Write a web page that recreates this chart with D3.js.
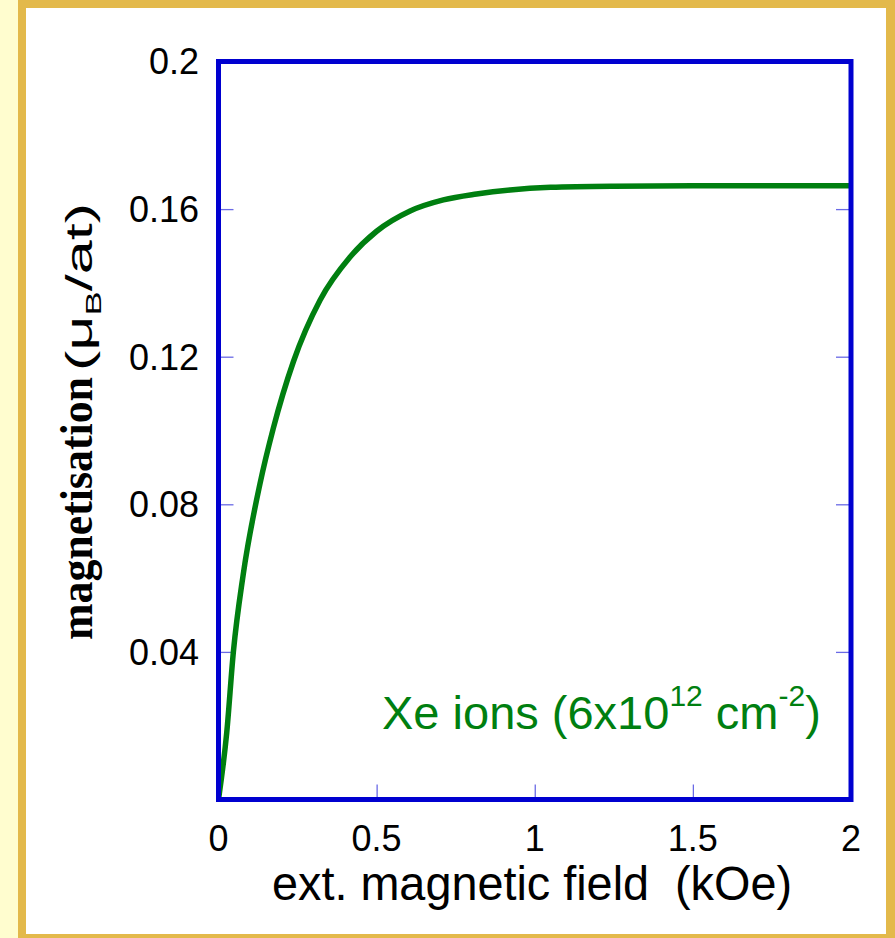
<!DOCTYPE html>
<html><head><meta charset="utf-8">
<script src="https://cdn.jsdelivr.net/npm/d3@7"></script>
<style>body{margin:0;background:#fff}</style>
</head><body>
<svg id="c" width="895" height="938"></svg>
<script>
// data
const field = [0, 0.026, 0.047, 0.078, 0.131, 0.173, 0.237, 0.321, 0.416, 0.5, 0.606, 0.711, 0.816, 0.922, 1.05, 1.25, 1.5, 1.75, 2.0];
const magnetisation = [0, 0.0181, 0.040, 0.0609, 0.0855, 0.1005, 0.1187, 0.1353, 0.147, 0.154, 0.1595, 0.1625, 0.1641, 0.1652, 0.1659, 0.1662, 0.1663, 0.1663, 0.1663];
const xTickValues = [0, 0.5, 1, 1.5, 2];
const xTickLabels = ["0", "0.5", "1", "1.5", "2"];
const yTickValues = [0.04, 0.08, 0.12, 0.16, 0.2];
const yTickLabels = ["0.04", "0.08", "0.12", "0.16", "0.2"];
const xTitle = "ext. magnetic field  (kOe)";
const yTitleMain = "magnetisation";
const legendText = ["Xe ions (6x10", "12", " cm", "-2", ")"];

const svg = d3.select("#c");
const W = 895, H = 938;
const L = 218.5, R = 851, T = 61.5, B = 799.5;
const frameColor = "#0000d0", tickColor = "#6a6ae6", green = "#007f10";

// background & border
svg.append("rect").attr("x",0).attr("y",0).attr("width",W).attr("height",H).attr("fill","#fffdcf");
svg.append("rect").attr("x",18).attr("y",0).attr("width",W-18).attr("height",H).attr("fill","#e3b94b");
svg.append("rect").attr("x",26).attr("y",8).attr("width",860).attr("height",926).attr("fill","#ffffff");

const x = d3.scaleLinear().domain([0,2]).range([L,R]);
const y = d3.scaleLinear().domain([0,0.2]).range([B,T]);

const tickLen = 15;
function styleAxis(g){
  g.select(".domain").remove();
  g.selectAll(".tick line").attr("stroke",tickColor).attr("stroke-width",1.3);
  g.selectAll(".tick text").remove();
}
svg.append("g").attr("transform",`translate(0,${B})`)
  .call(d3.axisBottom(x).tickValues(xTickValues).tickSize(-tickLen)).call(styleAxis);
svg.append("g").attr("transform",`translate(${L},0)`)
  .call(d3.axisLeft(y).tickValues(yTickValues).tickSize(-tickLen)).call(styleAxis);
svg.append("g").attr("transform",`translate(${R},0)`)
  .call(d3.axisRight(y).tickValues(yTickValues).tickSize(-tickLen)).call(styleAxis);

// curve
svg.append("clipPath").attr("id","clip").append("rect")
  .attr("x",L).attr("y",T).attr("width",R-L).attr("height",B-T);
const pts = field.map((f,i)=>[f, magnetisation[i]]);
svg.append("path").datum(pts)
  .attr("clip-path","url(#clip)")
  .attr("d", d3.line().x(d=>x(d[0])).y(d=>y(d[1])).curve(d3.curveMonotoneX))
  .attr("fill","none").attr("stroke",green).attr("stroke-width",5.5).attr("stroke-linejoin","round");

// frame
svg.append("rect").attr("x",L).attr("y",T).attr("width",R-L).attr("height",B-T)
  .attr("fill","none").attr("stroke",frameColor).attr("stroke-width",5);

// tick labels
const font = "Liberation Sans, Arial, Helvetica, sans-serif";
svg.append("g").selectAll("text").data(xTickValues).join("text")
  .attr("x",d=>x(d)).attr("y",851).attr("text-anchor","middle")
  .attr("font-family",font).attr("font-size",36).attr("fill","#000")
  .text((d,i)=>xTickLabels[i]);
svg.append("g").selectAll("text").data(yTickValues).join("text")
  .attr("x",199).attr("y",d=>y(d)).attr("dy","0.36em").attr("text-anchor","end")
  .attr("font-family",font).attr("font-size",36).attr("fill","#000")
  .text((d,i)=>yTickLabels[i]);

// x title
svg.append("text").attr("x",272).attr("y",900)
  .attr("font-family",font).attr("font-size",49).attr("fill","#000")
  .style("white-space","pre")
  .attr("textLength",520).attr("lengthAdjust","spacingAndGlyphs")
  .text(xTitle);

// y title (rotated)
const yt = svg.append("g").attr("transform","rotate(-90)");
yt.append("text").attr("x",-640).attr("y",92)
  .attr("font-family","Liberation Serif, 'Times New Roman', serif").attr("font-weight","bold")
  .attr("font-size",47).attr("fill","#000")
  .attr("textLength",263).attr("lengthAdjust","spacingAndGlyphs")
  .text(yTitleMain);
const yt2 = yt.append("text").attr("x",-371).attr("y",92)
  .attr("font-family",font).attr("font-size",37).attr("fill","#000")
  .attr("textLength",168).attr("lengthAdjust","spacingAndGlyphs");
yt2.append("tspan").text("(\u03bc");
yt2.append("tspan").attr("font-size",22).attr("dy",9).text("B");
yt2.append("tspan").attr("dy",-9).text("/at)");

// legend
const lg = svg.append("text").attr("x",382).attr("y",729)
  .attr("font-family",font).attr("font-size",47).attr("fill",green)
  .style("white-space","pre");
lg.append("tspan").text(legendText[0]);
lg.append("tspan").attr("font-size",30).attr("dy",-23).text(legendText[1]);
lg.append("tspan").attr("dy",23).text(legendText[2]);
lg.append("tspan").attr("font-size",30).attr("dy",-23).text(legendText[3]);
lg.append("tspan").attr("dy",23).text(legendText[4]);
</script>
</body></html>
